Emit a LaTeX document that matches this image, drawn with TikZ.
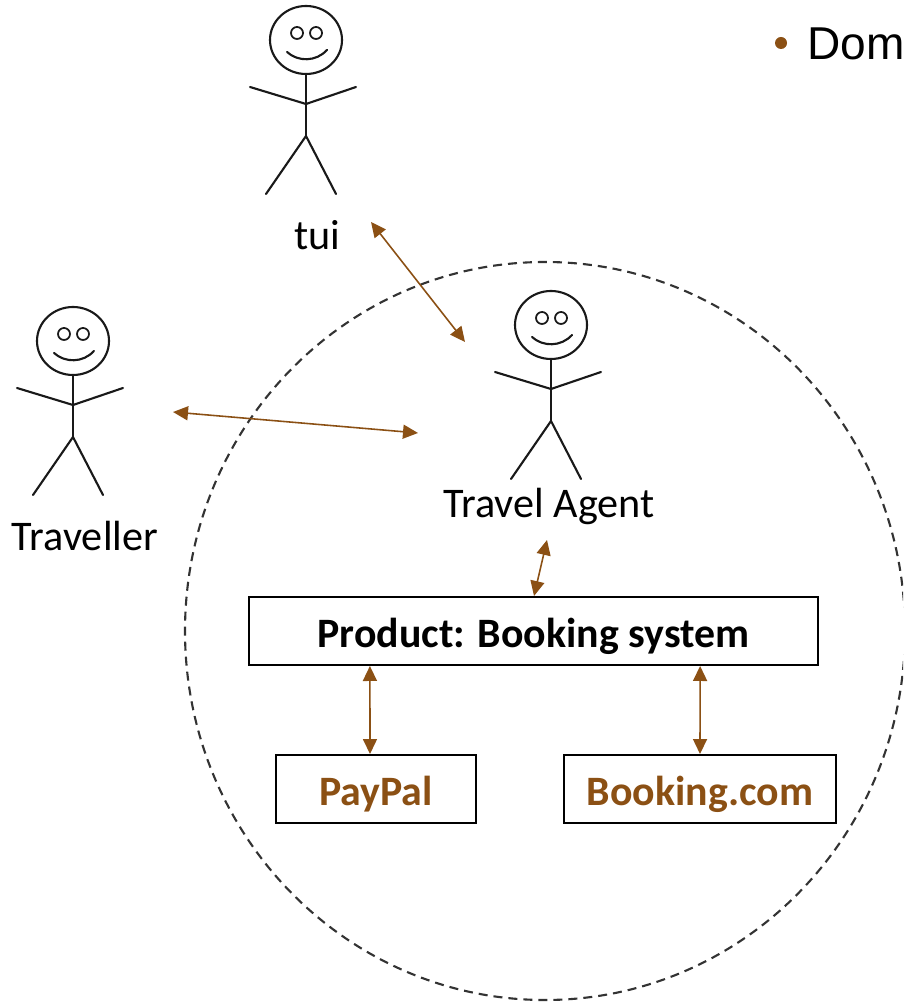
\documentclass[tikz,border=0pt]{standalone}
\usepackage{fontspec}
\setmainfont{Carlito}
\newfontfamily\domfont{Liberation Sans}
\usetikzlibrary{arrows.meta}
\definecolor{bookbrown}{HTML}{8B5014}
\tikzset{
    stick/.style={line width=0.6pt,line cap=round,line join=round,black!90},
    conn/.style={{Triangle[length=0.15cm,width=0.14cm]}-{Triangle[length=0.15cm,width=0.14cm]},line width=0.45pt,bookbrown},
    box/.style={draw,line width=0.55pt,minimum height=0.68cm,inner sep=0pt,text height=0.40cm,text depth=0.08cm,font=\fontsize{11.9pt}{13pt}\selectfont\bfseries},
    actorname/.style={font=\fontsize{12pt}{14pt}\selectfont,inner sep=0pt},
    pics/person/.style={code={
        \draw[stick] (0,0) ellipse (36 and 34);
        \draw[stick,line width=0.5pt] (-9,-7) circle (6);
        \draw[stick,line width=0.5pt] (10,-7) circle (6);
        \draw[stick] (-19,12) .. controls (-8,22) and (10,22) .. (21,10);
        \draw[stick] (0,34) -- (0,96);
        \draw[stick] (-56,47) -- (0,64) -- (50,47);
        \draw[stick] (-40,154) -- (0,96) -- (30,154);
    }}
}
\begin{document}
\begin{tikzpicture}[x=0.01cm,y=-0.01cm]
    \useasboundingbox (0,0) rectangle (903,1004);
    \begin{scope}
        \clip (0,0) rectangle (903,1004);

        % system boundary
        \draw[dashed,dash pattern=on 0.09cm off 0.06cm,line width=0.6pt,black!80] (545,631) ellipse (360 and 369);

        \pic at (306,40) {person};
        \pic at (73,341) {person};
        \pic at (551,325) {person};

        \node[actorname] (tui) at (317,235) {tui};
        \node[actorname] (traveller) at (85,536) {Traveller};
        \node[actorname] (agent) at (549,506) {Travel Agent};

        \node[box,minimum width=5.69cm] (product) at (533.5,631) {Product: Booking system};
        \node[box,minimum width=2cm,text=bookbrown] (paypal) at (376,789) {PayPal};
        \node[box,minimum width=2.72cm,text=bookbrown] (booking) at (700,789) {Booking.com};

        \node[circle,fill=bookbrown,inner sep=0pt,minimum size=0.12cm] (dot) at (781,43) {};
        \node[anchor=base west,inner sep=0pt,font=\fontsize{13.1pt}{15pt}\selectfont\domfont] (dom) at (807,60) {Dom};

        \coordinate (tuiend) at (371,222);
        \coordinate (agentend) at (465,342);
        \coordinate (travellerend) at (173,412);
        \coordinate (agentleft) at (418,433);
        \coordinate (agentbelow) at (547,540);

        \draw[conn] (tuiend) -- (agentend);
        \draw[conn] (travellerend) -- (agentleft);
        \draw[conn] (agentbelow) -- ([xshift=0.005cm]product.north);
        \draw[conn] ([xshift=-1.635cm]product.south) -- ([xshift=-0.06cm]paypal.north);
        \draw[conn] ([xshift=1.665cm]product.south) -- (booking.north);
    \end{scope}
\end{tikzpicture}
\end{document}
